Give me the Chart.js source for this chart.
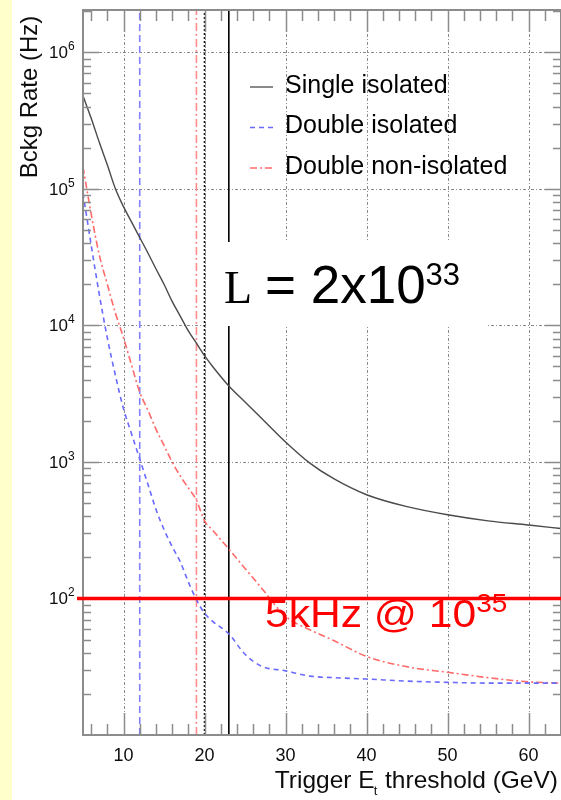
<!DOCTYPE html>
<html lang="en">
<head>
<meta charset="UTF-8">
<title>Bckg Rate vs Trigger Et threshold</title>
<script src="https://cdn.jsdelivr.net/npm/chart.js"></script>
<style>
  html, body { margin: 0; padding: 0; background: #fff; }
  canvas { display: block; }
</style>
</head>
<body>
<canvas id="rateChart" width="561" height="800"></canvas>
<script>
const thresholdGeV = [5, 6, 7, 8, 9, 10, 11, 12, 13, 14, 15, 16, 17, 18, 19, 20, 21, 23, 25, 27, 30, 33, 36, 40, 45, 50, 55, 60, 64];

// background rates (Hz)
const singleIsolated = [480000, 330000, 220000, 150000, 100000, 74000, 57000, 44000, 34000, 26000, 20000, 15000, 11700, 9100, 7400, 6000, 5000, 3600, 2750, 2100, 1400, 980, 750, 575, 470, 410, 370, 345, 325];
const doubleIsolated = [93000, 39000, 17000, 8100, 4300, 2450, 1600, 1050, 690, 450, 320, 240, 186, 132, 98, 78, 68, 55, 39, 32, 29.5, 27, 26.3, 25.7, 24.8, 24.3, 24, 24, 24];
const doubleNonIsolated = [145000, 66000, 33000, 20000, 12300, 8100, 5100, 3240, 2400, 1740, 1320, 1000, 790, 645, 525, 370, 316, 230, 166, 120, 74, 59, 49, 37.6, 31.6, 28.8, 26.3, 24.5, 24];

const seriesLabels = ['Single isolated', 'Double isolated', 'Double non-isolated'];

// vertical cut markers (GeV)
const cutSingle = 23;
const cutDouble = 12;
const cutNonIso = 19;
const cutDotted = 20;

// 5 kHz @ 10^35 level
const limitRate = 100;

// axis ticks
const xTickLabels = [10, 20, 30, 40, 50, 60];
const yDecades = [100, 1000, 10000, 100000, 1000000];
const yExponents = ['2', '3', '4', '5', '6'];

const xMin = 5, xMax = 64, yMin = 10, yMax = 2.04e6;
const SANS = '"Liberation Sans", Arial, sans-serif';

function pts(ys) {
    return ys.map((y, i) => ({ x: thresholdGeV[i], y: y }));
}
function vline(x) {
    return [{ x: x, y: yMin }, { x: x, y: yMax }];
}

const curveStyles = [
    { color: '#4a4a4a', dash: [], width: 1.4 },
    { color: '#6a6aff', dash: [5, 4], width: 1.6 },
    { color: '#ff6a6a', dash: [7, 3, 2, 3], width: 1.6 }
];

function drawSup(ctx, x, y, base, sup, baseFont, supFont, rise) {
    ctx.font = baseFont;
    ctx.fillText(base, x, y);
    const w = ctx.measureText(base).width;
    ctx.font = supFont;
    ctx.fillText(sup, x + w, y - rise);
}

const decor = {
    id: 'decor',
    beforeDraw(chart) {
        const ctx = chart.ctx;
        ctx.save();
        ctx.fillStyle = '#ffffff';
        ctx.fillRect(0, 0, chart.width, chart.height);
        ctx.fillStyle = '#ffffcc';
        ctx.fillRect(0, 0, 12, chart.height);
        ctx.restore();
    },
    beforeDatasetsDraw(chart) {
        const ctx = chart.ctx, a = chart.chartArea;
        const xs = chart.scales.x, ys = chart.scales.y;
        ctx.save();
        ctx.strokeStyle = '#8a8a8a';
        ctx.lineWidth = 1;
        ctx.setLineDash([3, 2, 1, 2]);
        xTickLabels.forEach(v => {
            const x = Math.round(xs.getPixelForValue(v)) + 0.5;
            ctx.beginPath(); ctx.moveTo(x, a.top); ctx.lineTo(x, a.bottom); ctx.stroke();
        });
        yDecades.forEach(v => {
            const y = Math.round(ys.getPixelForValue(v)) + 0.5;
            ctx.beginPath(); ctx.moveTo(a.left, y); ctx.lineTo(a.right, y); ctx.stroke();
        });
        ctx.restore();
    },
    afterDatasetsDraw(chart) {
        const ctx = chart.ctx, a = chart.chartArea;
        const xs = chart.scales.x, ys = chart.scales.y;
        ctx.save();

        // white box behind the luminosity label
        ctx.fillStyle = '#ffffff';
        ctx.fillRect(208, 242, 279, 84);

        // frame
        ctx.strokeStyle = '#8c8c8c';
        ctx.lineWidth = 2;
        ctx.setLineDash([]);
        ctx.strokeRect(a.left, a.top, a.right - a.left, a.bottom - a.top);

        // x ticks (every 2 GeV, long at tens)
        ctx.lineWidth = 1.5;
        for (let v = 6; v <= xMax; v += 2) {
            const x = Math.round(xs.getPixelForValue(v)) + 0.5;
            const len = v % 10 === 0 ? 22 : 11;
            ctx.beginPath();
            ctx.moveTo(x, a.bottom); ctx.lineTo(x, a.bottom - len);
            ctx.moveTo(x, a.top); ctx.lineTo(x, a.top + len);
            ctx.stroke();
        }
        // y ticks (log)
        for (let d = 10; d <= 1e6; d *= 10) {
            for (let m = 1; m <= 9; m++) {
                const v = m * d;
                if (v <= yMin || v >= yMax) continue;
                const y = Math.round(ys.getPixelForValue(v)) + 0.5;
                const len = m === 1 ? 16 : 8;
                ctx.beginPath();
                ctx.moveTo(a.left, y); ctx.lineTo(a.left + len, y);
                ctx.moveTo(a.right, y); ctx.lineTo(a.right - len, y);
                ctx.stroke();
            }
        }

        // 5 kHz line
        const yl = ys.getPixelForValue(limitRate);
        ctx.strokeStyle = '#ff0000';
        ctx.lineWidth = 3.5;
        ctx.beginPath(); ctx.moveTo(a.left - 6, yl); ctx.lineTo(chart.width, yl); ctx.stroke();

        // x tick labels
        ctx.fillStyle = '#0d0d0d';
        ctx.font = '18px ' + SANS;
        ctx.textAlign = 'center';
        ctx.textBaseline = 'alphabetic';
        xTickLabels.forEach(v => ctx.fillText(String(v), xs.getPixelForValue(v), a.bottom + 26));

        // y tick labels 10^n
        ctx.textAlign = 'left';
        yDecades.forEach((v, i) => {
            const y = ys.getPixelForValue(v);
            ctx.font = '17px ' + SANS;
            const w = ctx.measureText('10').width;
            drawSup(ctx, 68 - w, y + 6, '10', yExponents[i], '17px ' + SANS, '12px ' + SANS, 8);
        });

        // axis titles
        ctx.fillStyle = '#0d0d0d';
        ctx.font = '24.5px ' + SANS;
        const p1 = 'Trigger E', p2 = ' threshold (GeV)';
        const w1 = ctx.measureText(p1).width, w3 = ctx.measureText(p2).width;
        ctx.font = '13px ' + SANS;
        const w2 = ctx.measureText('t').width;
        let tx = 558 - (w1 + w2 + w3);
        ctx.font = '24.5px ' + SANS;
        ctx.fillText(p1, tx, 788);
        ctx.font = '13px ' + SANS;
        ctx.fillText('t', tx + w1 - 1, 795);
        ctx.font = '24.5px ' + SANS;
        ctx.fillText(p2, tx + w1 + w2, 788);

        ctx.save();
        ctx.translate(37, 97);
        ctx.rotate(-Math.PI / 2);
        ctx.textAlign = 'center';
        ctx.font = '24px ' + SANS;
        ctx.fillText('Bckg Rate (Hz)', 0, 0);
        ctx.restore();

        // legend
        ctx.textAlign = 'left';
        ctx.textBaseline = 'middle';
        seriesLabels.forEach((lab, i) => {
            const y = 86 + i * 40.5;
            const s = curveStyles[i];
            ctx.strokeStyle = s.color;
            ctx.lineWidth = 1.3;
            ctx.setLineDash(s.dash);
            ctx.beginPath(); ctx.moveTo(250, y + 1); ctx.lineTo(273, y + 1); ctx.stroke();
            ctx.setLineDash([]);
            ctx.fillStyle = '#000';
            ctx.font = '25px ' + SANS;
            ctx.fillText(lab, 285, y);
        });

        // L = 2x10^33
        ctx.textBaseline = 'alphabetic';
        ctx.fillStyle = '#000';
        ctx.font = '46px "Liberation Serif", "Times New Roman", serif';
        ctx.fillText('L', 224, 303);
        drawSup(ctx, 265, 303, '= 2x10', '33', '53px ' + SANS, '31px ' + SANS, 18);

        // 5kHz @ 10^35
        ctx.fillStyle = '#ff0000';
        ctx.save();
        ctx.translate(265, 627);
        ctx.scale(1.12, 1);
        drawSup(ctx, 0, 0, '5kHz @ 10', '35', '38px ' + SANS, '25px ' + SANS, 15);
        ctx.restore();

        ctx.restore();
    }
};

const curveSets = [singleIsolated, doubleIsolated, doubleNonIsolated].map((vals, i) => ({
    label: seriesLabels[i],
    data: pts(vals),
    borderColor: curveStyles[i].color,
    borderDash: curveStyles[i].dash,
    borderWidth: curveStyles[i].width,
    pointRadius: 0,
    fill: false,
    cubicInterpolationMode: 'monotone'
}));

const markerSets = [
    { label: 'cut double', data: vline(cutDouble), borderColor: '#8080ff', borderDash: [7, 4], borderWidth: 1.6 },
    { label: 'cut non-iso', data: vline(cutNonIso), borderColor: '#ff8c8c', borderDash: [8, 3, 2, 3], borderWidth: 1.6 },
    { label: 'cut 20', data: vline(cutDotted), borderColor: '#111', borderDash: [2, 2], borderWidth: 1.6 },
    { label: 'cut single', data: vline(cutSingle), borderColor: '#000', borderDash: [], borderWidth: 1.6 }
].map(d => Object.assign(d, { pointRadius: 0, fill: false, tension: 0 }));

new Chart(document.getElementById('rateChart'), {
    type: 'line',
    data: { datasets: curveSets.concat(markerSets) },
    options: {
        responsive: false,
        devicePixelRatio: 1,
        animation: false,
        layout: { padding: { left: 83, top: 10, right: 0, bottom: 65 } },
        plugins: { legend: { display: false }, tooltip: { enabled: false } },
        scales: {
            x: { type: 'linear', min: xMin, max: xMax, display: false },
            y: { type: 'logarithmic', min: yMin, max: yMax, display: false }
        }
    },
    plugins: [decor]
});
</script>
</body>
</html>
